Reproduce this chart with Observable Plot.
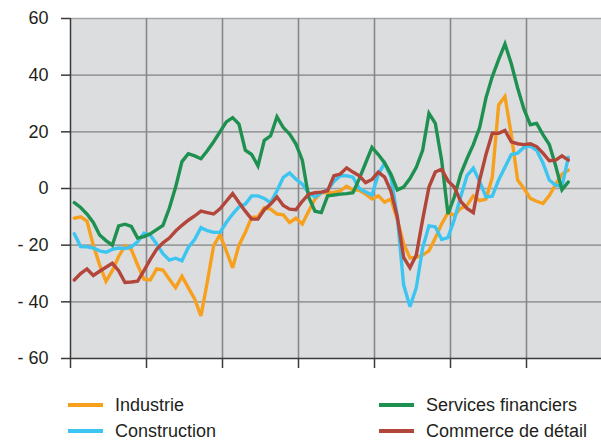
<!DOCTYPE html>
<html><head><meta charset="utf-8">
<script src="https://cdn.jsdelivr.net/npm/d3@7"></script>
<script src="https://cdn.jsdelivr.net/npm/@observablehq/plot@0.6"></script>
<style>
body{margin:0;background:#fff;font-family:"Liberation Sans",Arial,sans-serif;}
#wrap{position:relative;width:601px;height:441px;overflow:hidden;}
#chart{position:absolute;left:0;top:0;}
.leg{position:absolute;font-size:18px;color:#231f20;display:flex;align-items:center;height:22px;white-space:nowrap;}
.sw{width:35px;height:4px;margin-right:12px;}
</style></head><body><div id="wrap"><div id="chart"></div></div>
<script>
const seriesNames = ["Industrie", "Construction", "Services financiers", "Commerce de détail"];
const seriesColors = ["#f7a01e", "#3cc5f0", "#1e9050", "#b3463a"];

const industrie = [-10.5,-10,-11.5,-20,-27,-32.8,-29,-24,-20.2,-21.5,-27,-32,-32.3,-28.4,-28.8,-32,-35,-31,-35,-39,
  -45,-33,-20.2,-16.3,-22,-28,-20,-15.5,-10.2,-10,-6.8,-7.3,-9,-9.3,-12,-10.5,-12.5,-8,-3.7,-1.5,
  -1.4,-1.4,-0.8,0.8,-0.5,-0.6,-2,-3.7,-2.6,-4.8,-3.7,-11,-19.5,-24.5,-24.3,-23.5,-22,-17.5,-12.5,-8.5,
  -9.5,-7,-6,-2.6,-4.3,-3.7,4,29.5,32.5,19,3,0,-3.5,-4.5,-5.3,-2.5,1.5,5,6.5];

const construction = [-16,-20.5,-20.6,-21,-22,-22.5,-21.5,-21,-21.2,-20.6,-18.8,-15.8,-16.5,-19.6,-23,-25.3,-24.6,-25.5,-20.8,-18,
  -13.8,-14.9,-15.5,-15.5,-12,-9,-6.5,-5.5,-2.6,-2.6,-3.5,-5,-0.8,3.9,5.5,3.3,1.5,-1.5,-3,-1.5,
  -0.5,2.5,4.5,4.5,4,0,-1.2,-2.3,5,9,4,-10,-34,-41.7,-35,-21,-13.2,-13.5,-18,-17.3,
  -11,-3,4.5,7.2,2.5,-3,-2.7,3,7.5,12,12.5,14.5,15,13.5,9,3,1.2,0.7,11];

const servicesFinanciers = [-5,-6.7,-9,-12,-16.4,-18.4,-20,-13.2,-12.6,-13.4,-17.5,-17,-16,-14.5,-13,-7,0.5,9.5,12.3,11.5,
  10.5,13.3,16.5,20,23.5,25,22.7,13.5,12,8,17,18.6,25.3,21.5,19.2,15.7,10,-3,-8,-8.5,
  -2.6,-2.3,-2,-1.8,-1.5,3.5,9,14.5,12,9,5,-0.5,0.5,3.5,7.5,13.5,26.5,23,10,-9,
  -3,5,10.5,15.5,21.5,32,39.5,45.5,51,44,35.5,28,22.5,23,19,15.5,8,-0.5,2.3];

const commerceDetail = [-32.3,-30,-28.4,-30.7,-29.2,-27.8,-26.4,-29,-33.2,-33,-32.7,-29,-25,-21.5,-19.2,-17.5,-15,-13,-11.2,-9.7,
  -8,-8.5,-9,-7.2,-4.5,-1.8,-4.9,-8,-10.8,-10.8,-7.5,-5.5,-3,-6,-7.3,-7.5,-4.5,-2,-1.5,-1.3,
  -0.8,4.5,5.1,7.3,5.8,4.5,2.1,3.2,5.8,4,-1,-10,-24.3,-28,-23.5,-11,0.5,5.8,6.8,2.7,
  0.5,-4.5,-7,-8.5,3,12,19.5,19.5,20.5,16.5,15.8,15.5,15.8,14.8,12.5,9.8,10,11.5,10];

const yTicks = [-60, -40, -20, 0, 20, 40, 60];
const yearBoundaryMonths = [0, 12, 24, 36, 48, 60, 72, 84];

const seriesValues = [industrie, construction, servicesFinanciers, commerceDetail];
const rows = seriesNames.flatMap((name, k) => seriesValues[k].map((v, i) => ({series: name, month: i, value: v})));
const boundaries = yearBoundaryMonths.map(m => m - 0.6);

const fmt = d => d < 0 ? "- " + Math.abs(d) : String(d);

const chart = Plot.plot({
  width: 601, height: 372,
  marginLeft: 70, marginRight: 0, marginTop: 18, marginBottom: 14,
  x: {domain: [-0.6, 83.4], range: [70, 602], axis: null, label: null},
  y: {domain: [-60, 60], axis: null, label: null},
  color: {domain: seriesNames, range: seriesColors},
  style: {fontFamily: "Liberation Sans, Arial, sans-serif", fontSize: "18px", background: "transparent", color: "#231f20", overflow: "visible"},
  marks: [
    Plot.frame({fill: "#dcdddf", stroke: null}),
    Plot.ruleY(yTicks.filter(v => v > -60 && v < 60), {y: d => d, stroke: "#9a9b9d", strokeWidth: 1.6}),
    Plot.ruleY([60], {stroke: "#a5a6a8", strokeWidth: 1.6}),
    Plot.ruleX(boundaries.slice(1), {x: d => d, stroke: "#87888a", strokeWidth: 1.6}),
    Plot.line(rows, {x: "month", y: "value", z: "series", stroke: "series", strokeWidth: 3.4, strokeLinejoin: "miter", strokeMiterlimit: 3}),
    Plot.ruleX([boundaries[0]], {stroke: "#3a3a3a", strokeWidth: 1.5}),
    Plot.ruleY([-60], {stroke: "#3a3a3a", strokeWidth: 1.5}),
    Plot.axisY({ticks: yTicks, label: null, tickSize: 9, tickPadding: 13, tickFormat: fmt, stroke: "#3a3a3a", strokeWidth: 1.5, fontSize: 18}),
    Plot.axisX({ticks: boundaries, label: null, tickSize: 10, tickFormat: () => "", stroke: "#3a3a3a", strokeWidth: 1.5})
  ]
});
document.getElementById("chart").appendChild(chart);

const legendPos = [[68, 394], [68, 420], [379, 394], [379, 420]];
const wrap = document.getElementById("wrap");
seriesNames.forEach((name, k) => {
  const item = document.createElement("div");
  item.className = "leg";
  item.style.left = legendPos[k][0] + "px";
  item.style.top = legendPos[k][1] + "px";
  const sw = document.createElement("span");
  sw.className = "sw";
  sw.style.background = seriesColors[k];
  const t = document.createElement("span");
  t.textContent = name;
  item.appendChild(sw); item.appendChild(t);
  wrap.appendChild(item);
});
</script>
</body></html>
